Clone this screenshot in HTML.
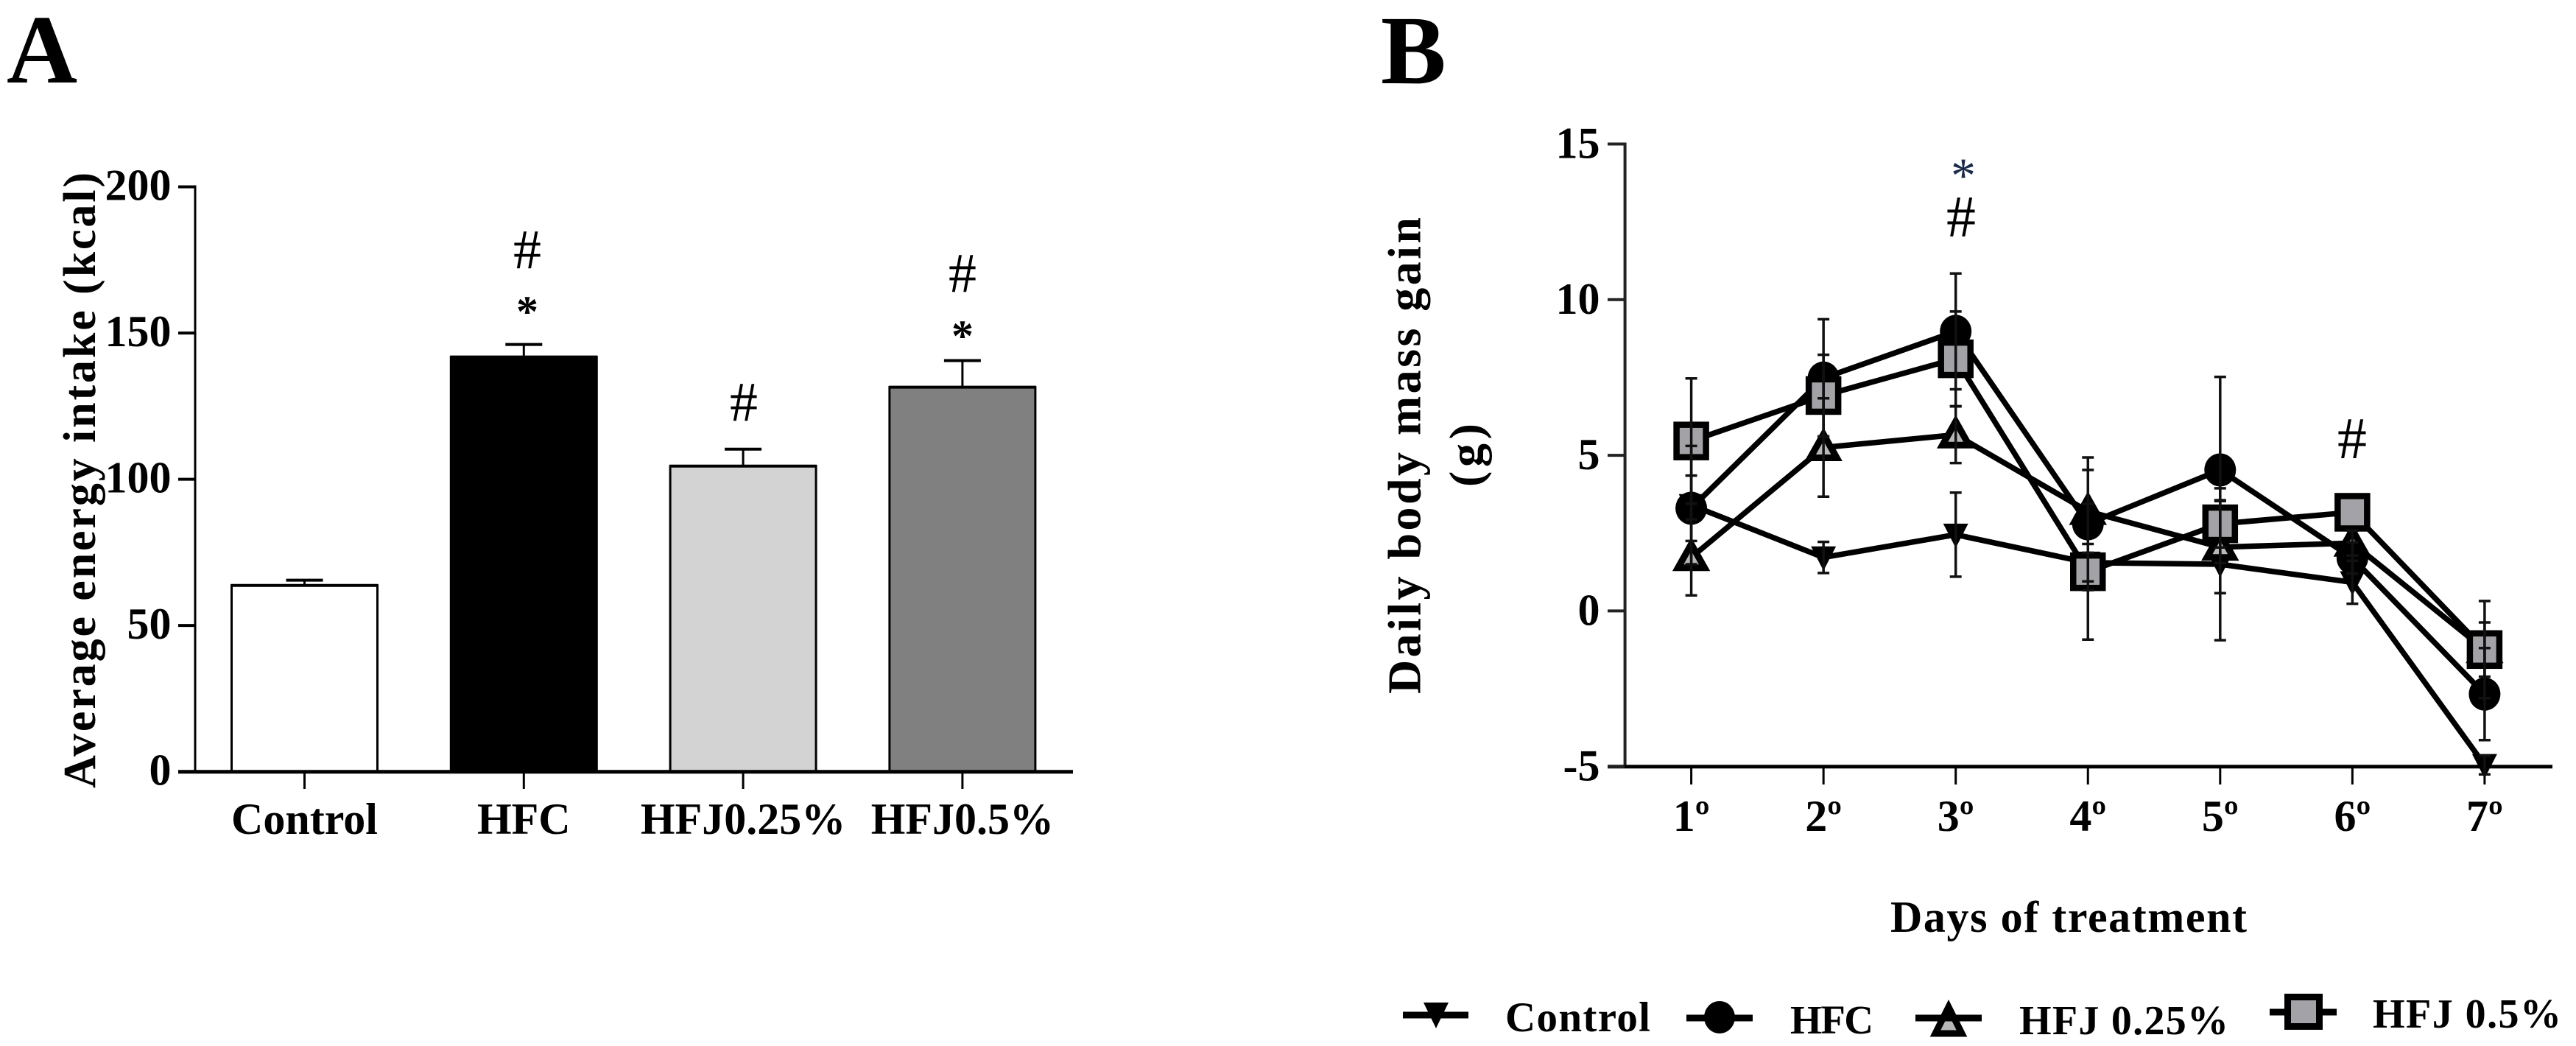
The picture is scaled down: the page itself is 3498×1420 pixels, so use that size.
<!DOCTYPE html>
<html lang="en">
<head>
<meta charset="utf-8">
<title>Energy intake and daily body mass gain</title>
<style>
html,body{margin:0;padding:0;background:#fff;width:3498px;height:1420px;overflow:hidden}
svg{display:block}
text{font-family:"Liberation Serif","DejaVu Serif",serif;font-weight:bold;fill:#000}
.mark{font-weight:normal}
</style>
</head>
<body>
<svg id="figure" xmlns="http://www.w3.org/2000/svg" width="3498" height="1420" viewBox="0 0 3498 1420">
  <rect x="0" y="0" width="3498" height="1420" fill="#fff"/>
  <text x="9" y="112" font-size="133">A</text>
  <text x="1875" y="113" font-size="133">B</text>

  <g id="chartA"></g>
  <text transform="translate(129,1070) rotate(-90)" font-size="62" textLength="836">Average energy intake (kcal)</text>
  <text class="mark" x="716" y="364" font-size="76" text-anchor="middle">#</text>
  <text x="716" y="443" font-size="60" text-anchor="middle">*</text>
  <text class="mark" x="1010" y="571" font-size="76" text-anchor="middle">#</text>
  <text class="mark" x="1307" y="396" font-size="76" text-anchor="middle">#</text>
  <text x="1307" y="476" font-size="60" text-anchor="middle">*</text>

  <g id="chartB"></g>
  <text transform="translate(1928.6,942) rotate(-90)" font-size="64" textLength="647">Daily body mass gain</text>
  <text transform="translate(2012,661) rotate(-90)" font-size="64" textLength="86">(g)</text>
  <text x="2567" y="1265" font-size="60" textLength="484">Days of treatment</text>
  <text class="mark" x="2666" y="261" font-size="68" text-anchor="middle" style="fill:#1a2a4a">*</text>
  <text class="mark" x="2663" y="321" font-size="80" text-anchor="middle">#</text>
  <text class="mark" x="3194" y="622" font-size="80" text-anchor="middle">#</text>

  <g>
    <g>
      <line x1="1905" x2="1994" y1="1378" y2="1378" stroke="#000" stroke-width="9"/>
      <polygon points="1933,1361 1967,1361 1950,1396" fill="#000"/>
      <text x="2044" y="1400" font-size="57" textLength="197">Control</text>
    </g>
    <g>
      <line x1="2290" x2="2380" y1="1382" y2="1382" stroke="#000" stroke-width="9"/>
      <ellipse cx="2335" cy="1381" rx="21" ry="22" fill="#000"/>
      <text x="2431" y="1403" font-size="55" textLength="113">HFC</text>
    </g>
    <g>
      <polygon points="2646,1367 2664,1403 2628,1403" fill="#b8b8b8" stroke="#000" stroke-width="9" stroke-linejoin="miter"/>
      <line x1="2601" x2="2691" y1="1382" y2="1382" stroke="#000" stroke-width="9"/>
      <text x="2742" y="1404" font-size="56" textLength="284">HFJ 0.25%</text>
    </g>
    <g>
      <line x1="3082" x2="3173" y1="1374" y2="1374" stroke="#000" stroke-width="9"/>
      <rect x="3106.5" y="1353.5" width="43" height="40" fill="#a3a3a7" stroke="#000" stroke-width="9"/>
      <text x="3222" y="1395" font-size="56" textLength="256">HFJ 0.5%</text>
    </g>
  </g>
</svg>
<script>
// Panel A data
const barCategories = ["Control", "HFC", "HFJ0.25%", "HFJ0.5%"];
const barValues = [63.7, 141.8, 104.5, 131.5];
const barErrors = [1.8, 4.3, 5.8, 9.1];
const barFills = ["#ffffff", "#000000", "#d3d3d3", "#808080"];
const barTicks = [0, 50, 100, 150, 200];

// Panel B data
const dayLabels = ["1º", "2º", "3º", "4º", "5º", "6º", "7º"];
const lineTicks = [-5, 0, 5, 10, 15];
const controlValues = [3.4, 1.72, 2.45, 1.55, 1.5, 0.92, -4.95];
const controlErrors = [1.9, 0.5, 1.35, 0.6, 2.44, 0.69, 0.3];
const hfcValues = [3.3, 7.48, 8.98, 2.8, 4.53, 1.7, -2.67];
const hfcErrors = [1.05, 1.89, 1.86, 2.13, 2.99, 0.5, 1.48];
const hfj025Values = [1.72, 5.25, 5.66, 3.2, 2.05, 2.18, -1.24];
const hfj025Errors = [1.22, 1.58, 0.91, 1.33, 1.48, 0.4, 0.87];
const hfj05Values = [5.46, 6.92, 8.1, 1.26, 2.8, 3.17, -1.24];
const hfj05Errors = [2.01, 1.31, 1.52, 2.18, 0.76, 0, 1.56];

const NS = "http://www.w3.org/2000/svg";
function make(tag, parent, props) {
  const node = document.createElementNS(NS, tag);
  for (const key in props) node.setAttribute(key, props[key]);
  parent.appendChild(node);
  return node;
}

// Axis functions, panel A
function xA(i) { return 413.5 + i * 297.8; }
function yA(v) { return 1047.7 - v * (1047.7 - 253.6) / 200; }
// Axis functions, panel B
function xB(i) { return 2296.6 + i * 179.55; }
function yB(v) { return 829.4 - v * 42.26; }

const chartA = document.getElementById("chartA");
const chartB = document.getElementById("chartB");

// ---------- Panel A ----------
barValues.forEach(function (v, i) {
  const err = make("line", chartA, { x1: xA(i), x2: xA(i), y1: yA(v), y2: yA(v + barErrors[i]), stroke: "#000", "stroke-width": 3 });
  
  
  const cap = make("line", chartA, { x1: xA(i) - 25, x2: xA(i) + 25, y1: yA(v + barErrors[i]), y2: yA(v + barErrors[i]), stroke: "#000", "stroke-width": 4 });
  
  
  const bar = make("rect", chartA, { x: xA(i) - 99, y: yA(v), width: 198, height: yA(0) - yA(v), fill: barFills[i], stroke: "#000", "stroke-width": 3 });
  
  
  const top = make("line", chartA, { x1: xA(i) - 100, x2: xA(i) + 100, y1: yA(v), y2: yA(v), stroke: "#000", "stroke-width": 4 });
  
  
});

const axisAY = make("line", chartA, { x1: 265, x2: 265, y1: yA(200) - 2, y2: yA(0), stroke: "#000", "stroke-width": 3 });


const axisAX = make("line", chartA, { x1: 242, x2: 1457, y1: yA(0), y2: yA(0), stroke: "#000", "stroke-width": 5 });



barTicks.forEach(function (t) {
  const tick = make("line", chartA, { x1: 242, x2: 265, y1: yA(t), y2: yA(t), stroke: "#000", "stroke-width": 4 });
  
  
  const label = make("text", chartA, { x: 232.5, y: yA(t) + 18, "font-size": 60, "text-anchor": "end" });
  
  
  label.textContent = t;
});

barCategories.forEach(function (c, i) {
  const tick = make("line", chartA, { x1: xA(i), x2: xA(i), y1: yA(0), y2: 1071, stroke: "#000", "stroke-width": 3 });
  
  
  const label = make("text", chartA, { x: xA(i), y: 1132, "font-size": 60, "text-anchor": "middle" });
  
  
  label.textContent = c;
});

// ---------- Panel B ----------
const axisBY = make("line", chartB, { x1: 2206.6, x2: 2206.6, y1: yB(15) - 2, y2: yB(-5), stroke: "#222", "stroke-width": 4 });


const axisBX = make("line", chartB, { x1: 2183, x2: 3466, y1: yB(-5), y2: yB(-5), stroke: "#000", "stroke-width": 5 });



lineTicks.forEach(function (t) {
  const tick = make("line", chartB, { x1: 2183, x2: 2206, y1: yB(t), y2: yB(t), stroke: "#222", "stroke-width": 4 });
  
  
  const label = make("text", chartB, { x: 2172.5, y: yB(t) + 19, "font-size": 60, "text-anchor": "end" });
  
  
  label.textContent = t;
});

dayLabels.forEach(function (d, i) {
  const tick = make("line", chartB, { x1: xB(i), x2: xB(i), y1: yB(-5), y2: 1065, stroke: "#000", "stroke-width": 3 });
  
  
  const label = make("text", chartB, { x: xB(i), y: 1128, "font-size": 60, "text-anchor": "middle" });
  
  
  label.textContent = d;
});

function drawSeries(values, kind) {
  const pts = values.map(function (v, i) { return xB(i) + "," + yB(v); }).join(" ");
  const line = make("polyline", chartB, { points: pts, fill: "none", stroke: "#000", "stroke-width": 7.5, "stroke-linejoin": "round" });
  
  
  values.forEach(function (v, i) {
    const cx = xB(i), cy = yB(v);
    let m;
    if (kind === "control") {
      m = make("polygon", chartB, { points: (cx - 17) + "," + (cy - 15) + " " + (cx + 17) + "," + (cy - 15) + " " + cx + "," + (cy + 18), fill: "#000" });
    } else if (kind === "hfc") {
      m = make("ellipse", chartB, { cx: cx, cy: cy, rx: 21.5, ry: 22.5, fill: "#000" });
    } else if (kind === "hfj025") {
      m = make("polygon", chartB, { points: cx + "," + (cy - 18) + " " + (cx + 18) + "," + (cy + 14) + " " + (cx - 18) + "," + (cy + 14), fill: "#b8b8b8", stroke: "#000", "stroke-width": 9, "stroke-linejoin": "miter" });
    } else {
      m = make("rect", chartB, { x: cx - 20, y: cy - 22, width: 40, height: 44, fill: "#a3a3a7", stroke: "#000", "stroke-width": 8.5 });
    }
    
    
  });
}

function drawErrors(values, errors, kind) {
  values.forEach(function (v, i) {
    const e = errors[i];
    if (!e) return;
    const cx = xB(i);
    const stem = make("line", chartB, { x1: cx, x2: cx, y1: yB(v + e), y2: yB(v - e), stroke: "#111", "stroke-width": 3.5 });
    
    
    const upper = make("line", chartB, { x1: cx - 8, x2: cx + 8, y1: yB(v + e), y2: yB(v + e), stroke: "#111", "stroke-width": 3.5 });
    
    
    const lower = make("line", chartB, { x1: cx - 8, x2: cx + 8, y1: yB(v - e), y2: yB(v - e), stroke: "#111", "stroke-width": 3.5 });
    
    
  });
}

drawSeries(controlValues, "control");
drawSeries(hfj025Values, "hfj025");
drawSeries(hfcValues, "hfc");
drawSeries(hfj05Values, "hfj05");
drawErrors(controlValues, controlErrors, "control");
drawErrors(hfcValues, hfcErrors, "hfc");
drawErrors(hfj025Values, hfj025Errors, "hfj025");
drawErrors(hfj05Values, hfj05Errors, "hfj05");
</script>
</body>
</html>
